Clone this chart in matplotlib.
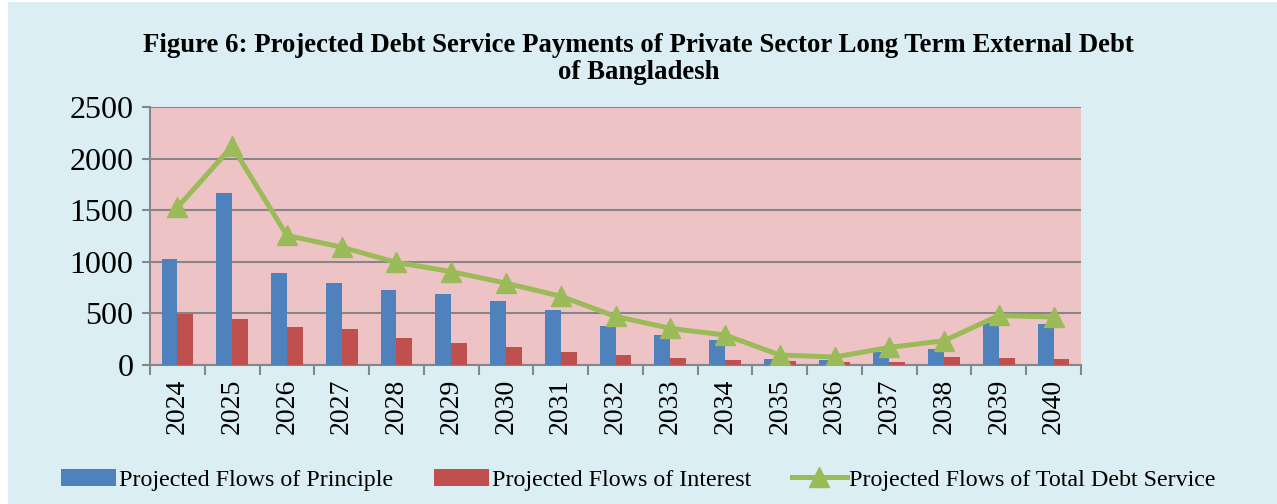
import matplotlib.pyplot as plt
from matplotlib.patches import Rectangle
import numpy as np

# Dette extérieure privée à long terme du Bangladesh (millions USD)
annees = [str(a) for a in range(2024, 2041)]
principal = [1030, 1671, 887, 790, 729, 690, 623, 536, 377, 287, 242, 58, 48, 123, 155, 403, 400]
interets = [497, 448, 365, 348, 265, 216, 171, 129, 94, 68, 48, 39, 29, 26, 81, 65, 61]
total = [1527, 2119, 1255, 1142, 994, 905, 793, 666, 471, 355, 290, 97, 77, 170, 235, 480, 465]

plt.rcParams["font.family"] = ["Liberation Serif", "DejaVu Serif"]

fig = plt.figure(figsize=(12.77, 5.04), dpi=100, facecolor="white")
# zone de graphique bleu clair, avec une petite marge blanche à gauche et en haut
fig.patches.append(Rectangle((8 / 1277, 0), 1 - 8 / 1277, 1 - 2 / 504, transform=fig.transFigure,
                             facecolor="#DAEEF4", edgecolor="none", zorder=-1))

ax = fig.add_axes([150 / 1277, 1 - 365 / 504, 931 / 1277, 258 / 504])
ax.set_facecolor("#EEC3C6")

x = np.arange(len(annees))
largeur = 0.29
barres_p = ax.bar(x - largeur / 2, principal, largeur, color="#4F81BD", zorder=3)
barres_i = ax.bar(x + largeur / 2, interets, largeur, color="#C0504D", zorder=3)
ligne, = ax.plot(x, total, color="#9BBB59", linewidth=3.6, marker="^", markersize=14, zorder=4)

ax.set_xlim(-0.5, len(annees) - 0.5)
ax.set_ylim(0, 2500)
ax.set_yticks(range(0, 2501, 500))
ax.yaxis.grid(True, color="#868686", linewidth=1.5, zorder=1)

# graduations de l'axe x entre les catégories
ax.set_xticks(x)
ax.set_xticklabels(annees, rotation=90, fontsize=20)
ax.set_xticks(np.arange(-0.5, len(annees)), minor=True)
ax.tick_params(axis="x", which="major", length=0, pad=10)
ax.tick_params(axis="x", which="minor", length=7, width=1.5, color="#868686")
ax.tick_params(axis="y", length=6, width=1.5, color="#868686", labelsize=23, pad=6)

for cote in ["top", "right"]:
    ax.spines[cote].set_visible(False)
for cote in ["left", "bottom"]:
    ax.spines[cote].set_color("#868686")
    ax.spines[cote].set_linewidth(1.5)

fig.text(0.5, 1 - 59 / 504,
         "Figure 6: Projected Debt Service Payments of Private Sector Long Term External Debt\nof Bangladesh",
         ha="center", va="center", fontsize=19.3, fontweight="bold", linespacing=1.07)

fig.legend([barres_p, barres_i, ligne],
           ["Projected Flows of Principle", "Projected Flows of Interest",
            "Projected Flows of Total Debt Service"],
           loc="center", bbox_to_anchor=(0.5, 1 - 480 / 504), ncol=3, frameon=False,
           fontsize=17.3, handlelength=2.3, columnspacing=1.7, handletextpad=0.1)

fig.savefig("out.png", dpi=100, facecolor=fig.get_facecolor())
